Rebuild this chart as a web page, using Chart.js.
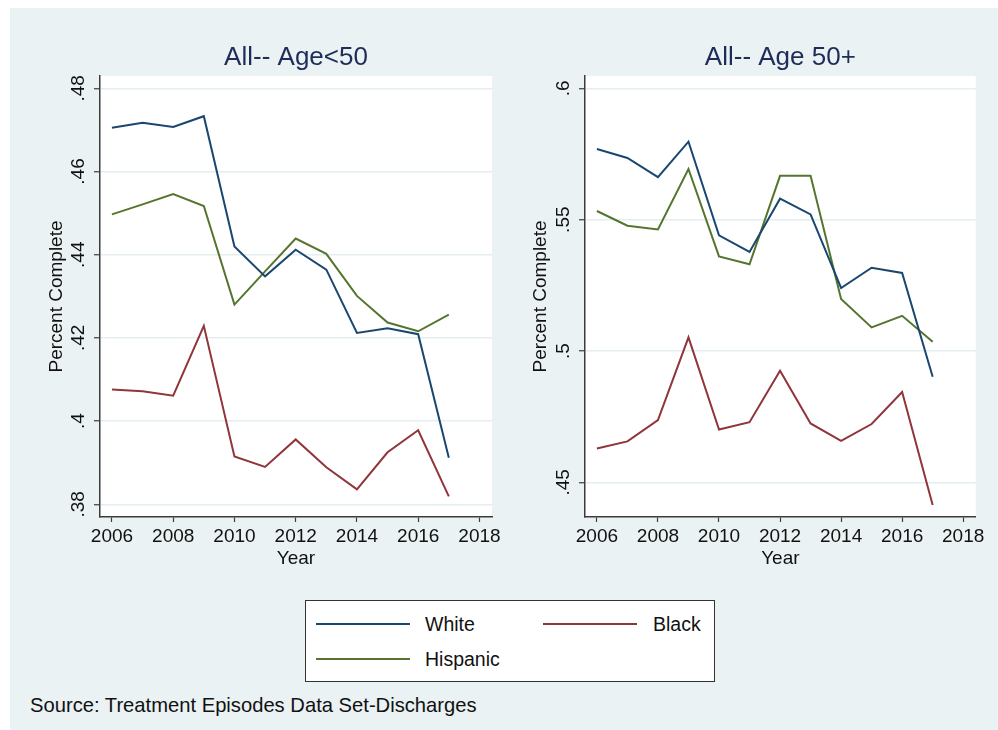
<!DOCTYPE html>
<html>
<head>
<meta charset="utf-8">
<script src="https://cdn.jsdelivr.net/npm/chart.js@4"></script>
<style>
  body { margin: 0; background: #fff; width: 998px; height: 730px; position: relative; overflow: hidden;
         font-family: "Liberation Sans", Arial, sans-serif; }
  .bg { position: absolute; left: 10px; top: 8px; width: 988px; height: 722px; background: #eaf2f3; }
  canvas { position: absolute; }
  #left { left: 10px; top: 8px; }
  #right { left: 500px; top: 8px; }
  .legend { position: absolute; left: 305px; top: 600px; width: 408px; height: 80px; background: #fff;
            border: 1px solid #333; }
  .legend .ln { position: absolute; height: 2px; width: 94px; }
  .legend .tx { position: absolute; font-size: 19.5px; color: #111; line-height: 22px; }
  .source { position: absolute; left: 30px; top: 693px; font-size: 20.2px; color: #111; line-height: 24px; }
</style>
</head>
<body>
<div class="bg"></div>
<canvas id="left" width="505" height="572"></canvas>
<canvas id="right" width="498" height="572"></canvas>
<div class="legend">
  <div class="ln" style="left:10px; top:22px; background:#1a476f"></div>
  <div class="tx" style="left:119px; top:12px">White</div>
  <div class="ln" style="left:237px; top:22px; background:#90353b"></div>
  <div class="tx" style="left:347px; top:12px">Black</div>
  <div class="ln" style="left:10px; top:57px; background:#55752f"></div>
  <div class="tx" style="left:119px; top:47px">Hispanic</div>
</div>
<div class="source">Source: Treatment Episodes Data Set-Discharges</div>

<script>
// years on the x axis
const years = [2006, 2007, 2008, 2009, 2010, 2011, 2012, 2013, 2014, 2015, 2016, 2017];

// Age < 50
const youngWhite    = [.4705, .4717, .4707, .4733, .4420, .4348, .4412, .4364, .4212, .4223, .4209, .3912];
const youngBlack    = [.4076, .4072, .4061, .4229, .3915, .3890, .3956, .3889, .3836, .3925, .3978, .3819];
const youngHispanic = [.4497, .4521, .4546, .4517, .4280, .4360, .4439, .4402, .4301, .4237, .4216, .4256];

// Age 50+
const oldWhite    = [.5769, .5735, .5662, .5797, .5440, .5377, .5580, .5520, .5240, .5317, .5297, .4902];
const oldBlack    = [.4629, .4656, .4737, .5052, .4701, .4729, .4925, .4724, .4658, .4722, .4844, .4414];
const oldHispanic = [.5533, .5477, .5463, .5693, .5360, .5330, .5667, .5667, .5198, .5090, .5134, .5035];

const seriesNames = ['White', 'Black', 'Hispanic'];
const seriesColors = ['#1a476f', '#90353b', '#55752f'];

Chart.defaults.font.family = '"Liberation Sans", Arial, sans-serif';
Chart.defaults.color = '#111';

const FONT = 19;
const AXIS_DARK = '#3c3c3c';

function fmtY(v) {
  return v.toFixed(2).replace(/0+$/, '').replace(/^0/, '');
}

// white plot region + panel title + rotated y tick labels
const panelDeco = {
  id: 'panelDeco',
  beforeDraw(chart) {
    const { ctx, chartArea: a } = chart;
    ctx.save();
    ctx.fillStyle = '#fff';
    ctx.fillRect(a.left, a.top, a.right - a.left, a.bottom - a.top);
    ctx.restore();
  },
  afterDraw(chart, args, opts) {
    const { ctx, chartArea: a } = chart;
    const ys = chart.scales.y;
    ctx.save();
    ctx.fillStyle = '#1e2c5a';
    ctx.font = '26px "Liberation Sans", Arial, sans-serif';
    ctx.textAlign = 'center';
    ctx.textBaseline = 'middle';
    ctx.fillText(opts.title, (a.left + a.right) / 2, 50);

    ctx.fillStyle = '#111';
    ctx.font = FONT + 'px "Liberation Sans", Arial, sans-serif';
    ys.ticks.forEach(t => {
      const y = ys.getPixelForValue(t.value);
      ctx.save();
      ctx.translate(a.left - 21, y);
      ctx.rotate(-Math.PI / 2);
      ctx.fillText(fmtY(t.value), 0, 0);
      ctx.restore();
    });
    ctx.restore();
  }
};

function makePanel(id, title, data, yMin, yMax, yStep, yWidth, padRight, titlePad) {
  new Chart(document.getElementById(id), {
    type: 'line',
    data: {
      datasets: seriesNames.map((name, i) => ({
        label: name,
        data: years.map((yr, k) => ({ x: yr, y: data[i][k] })),
        borderColor: seriesColors[i],
        borderWidth: 2,
        pointRadius: 0,
        tension: 0,
        fill: false
      }))
    },
    options: {
      responsive: false,
      animation: false,
      layout: { padding: { left: 0, top: 68, right: padRight, bottom: 3 } },
      plugins: {
        legend: { display: false },
        tooltip: { enabled: false },
        panelDeco: { title: title }
      },
      scales: {
        x: {
          type: 'linear',
          min: 2005.61,
          max: 2018.41,
          afterFit: s => { s.height = 60; },
          ticks: {
            stepSize: 2,
            includeBounds: false,
            padding: 3,
            font: { size: FONT },
            color: '#111',
            maxRotation: 0,
            callback: v => String(v)
          },
          grid: { drawOnChartArea: false, drawTicks: true, tickLength: 5, tickColor: AXIS_DARK, tickWidth: 1.2 },
          border: { color: AXIS_DARK, width: 1.5 },
          title: { display: true, text: 'Year', font: { size: FONT }, color: '#111', padding: { top: 0, bottom: 7.3 } }
        },
        y: {
          min: yMin,
          max: yMax,
          afterFit: s => { s.width = yWidth; },
          ticks: { stepSize: yStep, includeBounds: false, display: false },
          grid: { color: '#e4edf0', lineWidth: 1.5, drawTicks: true, tickLength: 6, tickColor: AXIS_DARK, tickWidth: 1.2 },
          border: { color: AXIS_DARK, width: 1.5 },
          title: { display: true, text: 'Percent Complete', font: { size: FONT }, color: '#111', padding: { top: titlePad, bottom: 0 } }
        }
      }
    },
    plugins: [panelDeco]
  });
}

makePanel('left', 'All-- Age<50', [youngWhite, youngBlack, youngHispanic], 0.37695, 0.48296, 0.02, 90, 23, 35.3);
makePanel('right', 'All-- Age 50+', [oldWhite, oldBlack, oldHispanic], 0.4368, 0.6047, 0.05, 85, 22.3, 29.6);
</script>
</body>
</html>
